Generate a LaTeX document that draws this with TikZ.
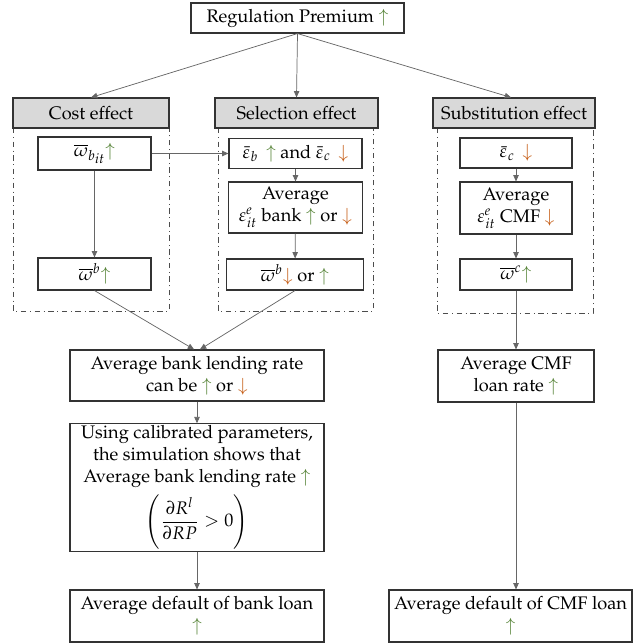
\documentclass[tikz,border=0pt]{standalone}
\usepackage[T1]{fontenc}
\usepackage{amssymb,amsmath}
\usepackage{mathpazo}
\usepackage[usenames,dvipsnames]{xcolor}
\usepackage{tikz}
\usetikzlibrary{arrows.meta}

\definecolor{upgreen}{RGB}{84,130,53}
\definecolor{downorange}{RGB}{197,90,17}
\definecolor{headgray}{RGB}{217,217,217}
\newcommand{\upar}{\textcolor{upgreen}{$\uparrow$}}
\newcommand{\dnar}{\textcolor{downorange}{$\downarrow$}}

\tikzset{
  box/.style={draw=black!80, line width=0.6pt, fill=white, align=center, inner sep=1pt,
    font=\fontsize{10}{12}\selectfont},
  head/.style={box, fill=headgray},
  sz/.style 2 args={minimum width=#1*0.55pt, minimum height=#2*0.55pt},
  link/.style={draw=black!60, line width=0.4pt, -{Triangle[length=3.5pt,width=3pt]}},
  frame/.style={draw=black!70, line width=0.5pt, dash dot},
}

\begin{document}
\begin{tikzpicture}[x=0.55pt,y=-0.55pt]
\useasboundingbox (0,0) rectangle (633,643);
% top
\node[box, sz={213}{30}] (reg) at (297.5,18) {Regulation Premium \upar};
% dash-dot frames
\draw[frame] (13,128) rectangle (169,311);
\draw[frame] (218,128) rectangle (373,311);
\draw[frame] (437,128) rectangle (593,313);
% effect headers
\node[head, sz={156}{30}] (hcost) at (91,113) {Cost effect};
\node[head, sz={163}{30}] (hsel) at (296.5,113) {Selection effect};
\node[head, sz={162}{30}] (hsub) at (514,113) {Substitution effect};
% cost effect
\node[box, sz={113}{33}] (wbit) at (94.5,153.5) {$\overline{\omega}_{b\raisebox{-2pt}{$\scriptstyle it$}}$\upar};
\node[box, sz={113}{32}] (wb) at (94.5,274) {$\overline{\omega}^{b}$\upar};
% selection effect
\node[box, sz={133}{30}] (epsb) at (295.5,153.5) {$\bar{\varepsilon}_b$\, \upar{} and $\bar{\varepsilon}_c$\, \dnar};
\node[box, sz={134}{51}] (avgb) at (295.5,207.5) {Average\\ $\varepsilon^{e}_{it}$ bank \upar{} or \dnar};
\node[box, sz={137}{31}] (wbsel) at (295,274.5) {$\overline{\omega}^{b}$\dnar{} or \upar};
% substitution effect
\node[box, sz={112}{30}] (epsc) at (516,153) {$\bar{\varepsilon}_c$\, \dnar};
\node[box, sz={112}{52}] (avgc) at (516,208) {Average\\ $\varepsilon^{e}_{it}$ CMF \dnar};
\node[box, sz={112}{31}] (wc) at (516,274.5) {$\overline{\omega}^{c}$\upar};
% rates
\node[box, sz={254}{51}] (bankrate) at (197,375.5) {Average bank lending rate\\ can be \upar{} or \dnar};
\node[box, sz={156}{52}] (cmfrate) at (516,376) {Average CMF\\ loan rate \upar};
\node[box, sz={254}{123}] (calib) at (197,487.5) {Using calibrated parameters,\\ the simulation shows that\\ Average bank lending rate \upar\\[3pt] $\displaystyle\left(\frac{\partial R^{l}}{\partial RP}>0\right)$};
% defaults
\node[box, sz={254}{52}] (defbank) at (197,616) {Average default of bank loan\\ \upar};
\node[box, sz={243}{52}] (defcmf) at (510.5,616) {Average default of CMF loan\\ \upar};

\draw[link] (reg.south) -- (hcost.north);
\draw[link] (reg.south) -- (hsel.north);
\draw[link] (reg.south) -- ([xshift=-1.6pt]hsub.north);
\draw[link] (wbit) -- (wb);
\draw[link] (wbit) -- (epsb);
\draw[link] (epsb) -- (avgb);
\draw[link] (avgb) -- (wbsel);
\draw[link] (epsc) -- (avgc);
\draw[link] (avgc) -- (wc);
\draw[link] (wb.south) -- ([xshift=-1.6pt]bankrate.north);
\draw[link] (wbsel.south) -- ([xshift=1.6pt]bankrate.north);
\draw[link] (wc) -- (cmfrate);
\draw[link] (bankrate) -- (calib);
\draw[link] (calib) -- (defbank);
\draw[link] (cmfrate.south) -- (cmfrate.south |- defcmf.north);
\end{tikzpicture}
\end{document}
